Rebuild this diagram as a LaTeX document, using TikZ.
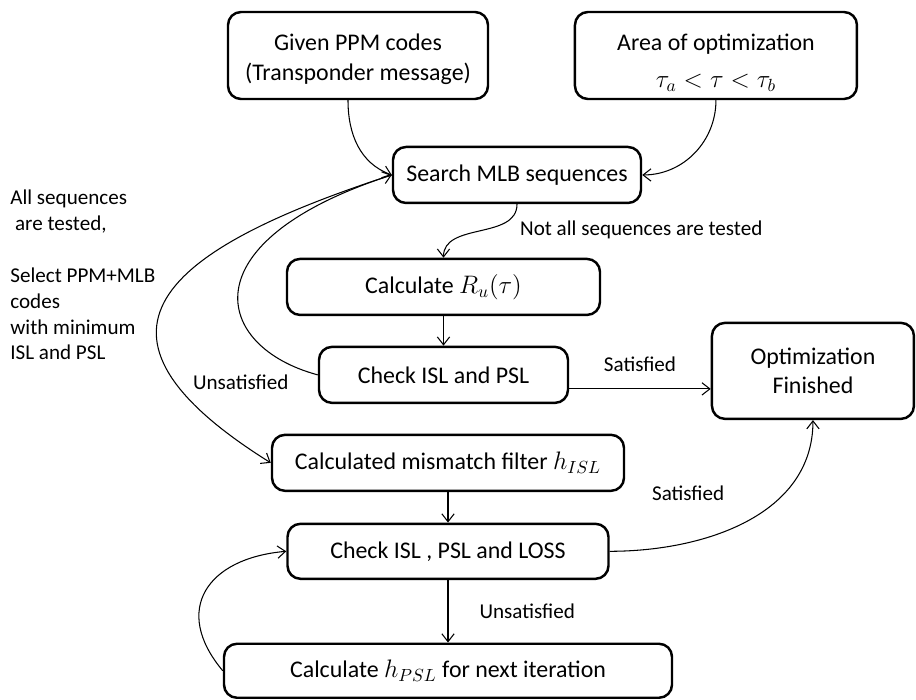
\documentclass[tikz,border=0pt]{standalone}
\usepackage[no-math]{fontspec}
\setmainfont{Carlito}
\usepackage{amsmath}
\usetikzlibrary{
	arrows.meta,
	positioning
}

\begin{document}
\begin{tikzpicture}[
		box/.style={draw, rounded corners=0.26cm, line width=1.4pt, align=center, inner sep=0pt, font=\fontsize{13.6}{17}\selectfont},
		lbl/.style={font=\fontsize{12}{14.7}\selectfont, inner sep=2pt},
		arrow/.style={-{Straight Barb[length=4.5pt,width=7pt]}, line width=0.6pt},
		node distance=1cm
		]
		\useasboundingbox (0,0) rectangle (18.32,-14);
		
		% Nodes
		\node[box, minimum width=5.2cm, minimum height=1.74cm] (given) at (7.16,-1.11) {
			\rule{0pt}{1em}Given PPM codes\\
			(Transponder message)
		};
		
		\node[box, minimum width=5.64cm, minimum height=1.74cm, right=1.69cm of given] (area) {
			\rule{0pt}{1.3em}Area of optimization\\[4pt]
			$\tau_a < \tau < \tau_b$
		};
		
		\node[box, minimum width=4.96cm, minimum height=1.12cm, below=0.91cm of given, xshift=3.18cm] (search) {Search MLB sequences};
		
		\node[box, minimum width=6.26cm, minimum height=1.12cm, below=1.07cm of search, xshift=-1.47cm] (calc) {Calculate $R_u(\tau)$};
		
		\node[box, minimum width=4.98cm, minimum height=1.12cm, below=0.59cm of calc] (check) {Check ISL and PSL};
		
		\node[box, minimum width=4.04cm, minimum height=1.92cm, right=2.83cm of check, yshift=0.08cm] (finish) {
			Optimization\\
			Finished
		};
		
		\node[box, minimum width=7.04cm, minimum height=1.12cm, below=0.59cm of check, xshift=0.09cm] (mismatch) {Calculated mismatch filter $h_{ISL}$};
		
		\node[box, minimum width=6.42cm, minimum height=1.1cm, below=0.61cm of mismatch] (checkloss) {Check ISL , PSL and LOSS};
		
		\node[box, minimum width=8.96cm, minimum height=1.08cm, below=1.25cm of checkloss] (hpsl) {Calculate $h_{PSL}$ for next iteration};
		
		\node[lbl, align=left, anchor=north west, inner sep=0pt] (alltested) at (0.2,-3.8) {
			All sequences\\
			\ are tested,\\[14.7pt]
			Select PPM+MLB\\
			codes\\
			with minimum\\
			ISL and PSL
		};
		
		\node[lbl, left=0.51cm of check.west, yshift=-0.14cm] (unsat1) {Unsatisfied};
		\node[lbl, above right=0.94cm and 0.77cm of checkloss.east] (sat2) {Satisfied};
		
		% Arrows
		\draw[arrow] ([xshift=-0.2cm]given.south) to[out=-90, in=160] (search.west);
		\draw[arrow] (area.south) to[out=-90, in=0] (search.east);
		\draw[arrow] (search.south) to[out=-90, in=90] node[lbl, pos=0.3, right=0.3cm, yshift=-0.1cm] (notall) {Not all sequences are tested} (calc.north);
		\draw[arrow] (calc) -- (check);
		\draw[arrow] ([yshift=-0.28cm]check.east) -- ([yshift=-0.28cm]check.east -| finish.west) node[lbl, midway, above=0.26cm] (sat1) {Satisfied};
		\draw[arrow] (check.west) to[out=165, in=198, out looseness=1.3, in looseness=2.6] (search.west);
		\draw[arrow] (search.west) to[out=198, in=148, looseness=2] (mismatch.west);
		\draw[arrow] (mismatch) -- (checkloss);
		\draw[arrow] (checkloss) -- node[lbl, right=0.55cm] (unsat2) {Unsatisfied} (hpsl);
		\draw[arrow] (hpsl.west) to[out=130, in=185, looseness=1.5] (checkloss.west);
		\draw[arrow] (checkloss.east) to[out=0, in=-90] (finish.south);
		
\end{tikzpicture}
\end{document}
